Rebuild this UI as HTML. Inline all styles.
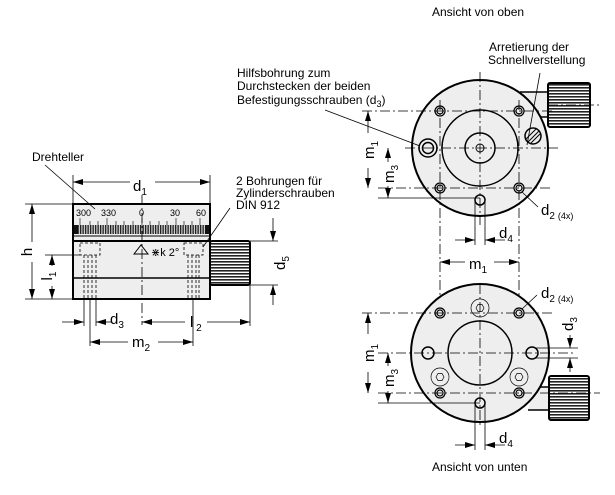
<!DOCTYPE html>
<html><head><meta charset="utf-8"><style>
html,body{margin:0;padding:0;background:#fff;}
svg{display:block;font-family:"Liberation Sans",sans-serif;}
</style></head><body>
<svg width="615" height="495" viewBox="0 0 615 495" xmlns="http://www.w3.org/2000/svg">
<defs>
<marker id="a" viewBox="0 0 10 6" refX="10" refY="3" markerWidth="10" markerHeight="6" orient="auto" markerUnits="userSpaceOnUse"><path d="M0,0 L10,3 L0,6z" fill="#000"/></marker>
<pattern id="kn" width="4" height="3" patternUnits="userSpaceOnUse"><rect width="4" height="3" fill="#fff"/><rect width="4" height="1.6" fill="#222"/></pattern>
<pattern id="kv" width="2.5" height="4" patternUnits="userSpaceOnUse"><rect width="2.5" height="4" fill="#ccc"/><rect width="1.3" height="4" fill="#222"/></pattern>
</defs>
<g stroke="#000" fill="none" stroke-width="1">

<!-- LEFT VIEW -->
<rect x="73" y="204" width="137" height="95" fill="#eee" stroke-width="2"/>
<rect x="74" y="225" width="135" height="9" fill="url(#kv)" stroke="none"/>
<rect x="74" y="225" width="4" height="9" fill="#111" stroke="none"/>
<rect x="205" y="225" width="4" height="9" fill="#111" stroke="none"/>
<g stroke-width="0.6">
<line x1="80" y1="218" x2="80" y2="225"/><line x1="107" y1="218" x2="107" y2="225"/><line x1="142" y1="218" x2="142" y2="225"/><line x1="176" y1="218" x2="176" y2="225"/><line x1="200" y1="218" x2="200" y2="225"/>
<line x1="90" y1="221" x2="90" y2="225"/><line x1="98" y1="221" x2="98" y2="225"/><line x1="116" y1="221" x2="116" y2="225"/><line x1="124" y1="221" x2="124" y2="225"/><line x1="133" y1="221" x2="133" y2="225"/><line x1="150" y1="221" x2="150" y2="225"/><line x1="159" y1="221" x2="159" y2="225"/><line x1="167" y1="221" x2="167" y2="225"/><line x1="184" y1="221" x2="184" y2="225"/><line x1="192" y1="221" x2="192" y2="225"/>
</g>
<line x1="73" y1="236" x2="210" y2="236"/>
<line x1="73" y1="241" x2="210" y2="241" stroke-width="2"/>
<line x1="73" y1="278" x2="210" y2="278" stroke-width="1.5"/>
<rect x="210" y="241" width="40" height="44" rx="2" fill="url(#kn)" stroke-width="2"/>
<path d="M134,254 L141,245 L148,254z"/>
<g stroke-dasharray="3,2" stroke-width="0.8">
<rect x="80" y="243" width="20" height="12"/>
<rect x="184" y="243" width="19" height="12"/>
<line x1="84" y1="255" x2="84" y2="299"/><line x1="88" y1="255" x2="88" y2="299"/><line x1="92" y1="255" x2="92" y2="299"/><line x1="96" y1="255" x2="96" y2="299"/>
<line x1="188" y1="255" x2="188" y2="299"/><line x1="192" y1="255" x2="192" y2="299"/><line x1="196" y1="255" x2="196" y2="299"/><line x1="199" y1="255" x2="199" y2="299"/>
</g>
<line x1="142" y1="195" x2="142" y2="325" stroke-width="0.8" stroke-dasharray="10,3,2,3"/>
<g stroke-width="0.8">
<line x1="73" y1="175" x2="73" y2="204"/><line x1="210" y1="175" x2="210" y2="204"/>
<line x1="130" y1="182" x2="73" y2="182" marker-end="url(#a)"/><line x1="155" y1="182" x2="210" y2="182" marker-end="url(#a)"/>
<line x1="25" y1="204" x2="73" y2="204"/><line x1="25" y1="299" x2="73" y2="299"/>
<line x1="32" y1="242" x2="32" y2="204" marker-end="url(#a)"/><line x1="32" y1="262" x2="32" y2="299" marker-end="url(#a)"/>
<line x1="45" y1="255" x2="80" y2="255"/>
<line x1="52" y1="266" x2="52" y2="255" marker-end="url(#a)"/><line x1="52" y1="286" x2="52" y2="299" marker-end="url(#a)"/>
<line x1="250" y1="241" x2="278" y2="241"/><line x1="250" y1="285" x2="278" y2="285"/>
<line x1="273" y1="218" x2="273" y2="241" marker-end="url(#a)"/><line x1="273" y1="305" x2="273" y2="285" marker-end="url(#a)"/>
<line x1="84" y1="299" x2="84" y2="326"/><line x1="90" y1="299" x2="90" y2="346"/><line x1="96" y1="299" x2="96" y2="326"/>
<line x1="193" y1="299" x2="193" y2="346"/><line x1="250" y1="285" x2="250" y2="326"/>
<line x1="62" y1="322" x2="84" y2="322" marker-end="url(#a)"/><line x1="112" y1="322" x2="96" y2="322" marker-end="url(#a)"/>
<line x1="185" y1="322" x2="142" y2="322" marker-end="url(#a)"/><line x1="207" y1="322" x2="250" y2="322" marker-end="url(#a)"/>
<line x1="128" y1="342" x2="90" y2="342" marker-end="url(#a)"/><line x1="158" y1="342" x2="193" y2="342" marker-end="url(#a)"/>
<line x1="45" y1="165" x2="95" y2="209"/>
<line x1="230" y1="208" x2="203" y2="247"/>
</g>

<!-- TOP VIEW -->
<path d="M520,92 L548,92 L548,117 L535,117" fill="#eee" stroke-width="1.5"/>
<rect x="548" y="83" width="42" height="44" rx="2" fill="url(#kn)" stroke-width="2"/>
<circle cx="480" cy="148" r="68" fill="#eee" stroke-width="2"/>
<circle cx="480" cy="148" r="38" stroke-width="1.5"/>
<circle cx="480" cy="148" r="15" stroke-width="1.5"/>
<circle cx="480" cy="148" r="4"/>
<g stroke-width="1.2">
<circle cx="440" cy="111" r="5"/><circle cx="440" cy="111" r="3"/>
<circle cx="519" cy="111" r="5"/><circle cx="519" cy="111" r="3"/>
<circle cx="440" cy="188" r="5"/><circle cx="440" cy="188" r="3"/>
<circle cx="519" cy="188" r="5"/><circle cx="519" cy="188" r="3"/>
</g>
<circle cx="428" cy="148" r="9" stroke-width="1.5"/><circle cx="428" cy="148" r="5.5" stroke-width="1.5"/>
<circle cx="480" cy="200" r="5" stroke-width="1.5"/>
<circle cx="533" cy="136" r="8" stroke-width="1.5"/>
<line x1="528" y1="142" x2="539" y2="131"/><line x1="526" y1="139" x2="536" y2="129"/><line x1="530" y1="144" x2="540" y2="134"/>
<g stroke-width="0.8" stroke-dasharray="10,3,2,3">
<line x1="362" y1="111" x2="552" y2="111"/><line x1="378" y1="188" x2="552" y2="188"/>
<line x1="405" y1="148" x2="558" y2="148"/><line x1="548" y1="105" x2="600" y2="105"/>
<line x1="480" y1="72" x2="480" y2="225"/>
<line x1="440" y1="100" x2="440" y2="372"/><line x1="519" y1="100" x2="519" y2="372"/>
</g>
<g stroke-width="0.8">
<line x1="368" y1="133" x2="368" y2="111" marker-end="url(#a)"/><line x1="368" y1="168" x2="368" y2="188" marker-end="url(#a)"/>
<line x1="388" y1="162" x2="388" y2="148" marker-end="url(#a)"/><line x1="388" y1="186" x2="388" y2="198" marker-end="url(#a)"/>
<line x1="378" y1="198" x2="480" y2="198"/>
<line x1="475" y1="200" x2="475" y2="245"/><line x1="485" y1="200" x2="485" y2="245"/>
<line x1="455" y1="240" x2="475" y2="240" marker-end="url(#a)"/><line x1="505" y1="240" x2="485" y2="240" marker-end="url(#a)"/>
<line x1="465" y1="262" x2="440" y2="262" marker-end="url(#a)"/><line x1="494" y1="262" x2="519" y2="262" marker-end="url(#a)"/>
<line x1="522" y1="192" x2="538" y2="207"/>
<line x1="540" y1="73" x2="527" y2="145"/>
<line x1="325" y1="110" x2="420" y2="146"/>
</g>

<!-- BOTTOM VIEW -->
<path d="M535,387 L549,387 L549,410 L528,410" fill="#eee" stroke-width="1.5"/>
<rect x="549" y="376" width="40" height="44" rx="2" fill="url(#kn)" stroke-width="2"/>
<circle cx="480" cy="353" r="69" fill="#eee" stroke-width="2"/>
<circle cx="480" cy="353" r="32" stroke-width="1.5"/>
<g stroke-width="1.2">
<circle cx="440" cy="313" r="5"/><circle cx="440" cy="313" r="3"/>
<circle cx="519" cy="313" r="5"/><circle cx="519" cy="313" r="3"/>
<circle cx="440" cy="393" r="5"/><circle cx="440" cy="393" r="3"/>
<circle cx="519" cy="393" r="5"/><circle cx="519" cy="393" r="3"/>
</g>
<g stroke-width="1.5"><circle cx="428" cy="353" r="6"/><circle cx="532" cy="353" r="6"/><circle cx="480" cy="403" r="5"/></g>
<g stroke-width="0.7">
<circle cx="480" cy="308" r="9"/><path d="M476,308 l2,-3.5 h4 l2,3.5 l-2,3.5 h-4z"/>
<circle cx="440" cy="377" r="9"/><path d="M436,377 l2,-3.5 h4 l2,3.5 l-2,3.5 h-4z"/>
<circle cx="519" cy="377" r="9"/><path d="M515,377 l2,-3.5 h4 l2,3.5 l-2,3.5 h-4z"/>
</g>
<g stroke-width="0.8" stroke-dasharray="10,3,2,3">
<line x1="362" y1="313" x2="552" y2="313"/><line x1="378" y1="393" x2="600" y2="393"/>
<line x1="378" y1="353" x2="575" y2="353"/>
<line x1="480" y1="284" x2="480" y2="425"/>
</g>
<g stroke-width="0.8">
<line x1="368" y1="334" x2="368" y2="313" marker-end="url(#a)"/><line x1="368" y1="372" x2="368" y2="393" marker-end="url(#a)"/>
<line x1="388" y1="366" x2="388" y2="353" marker-end="url(#a)"/><line x1="388" y1="391" x2="388" y2="403" marker-end="url(#a)"/>
<line x1="378" y1="403" x2="480" y2="403"/>
<line x1="536" y1="348" x2="578" y2="348"/><line x1="536" y1="358" x2="578" y2="358"/>
<line x1="570" y1="335" x2="570" y2="348" marker-end="url(#a)"/><line x1="570" y1="372" x2="570" y2="358" marker-end="url(#a)"/>
<line x1="475" y1="403" x2="475" y2="450"/><line x1="485" y1="403" x2="485" y2="450"/>
<line x1="455" y1="445" x2="475" y2="445" marker-end="url(#a)"/><line x1="505" y1="445" x2="485" y2="445" marker-end="url(#a)"/>
<line x1="522" y1="309" x2="537" y2="295"/>
</g>
</g>

<g font-size="12" fill="#000">
<text x="32" y="161">Drehteller</text>
<text x="236" y="185">2 Bohrungen für</text>
<text x="236" y="197">Zylinderschrauben</text>
<text x="236" y="209">DIN 912</text>
<text x="133" y="191" font-size="15">d<tspan font-size="10" dy="4">1</tspan></text>
<text transform="translate(27,252) rotate(-90)" text-anchor="middle" y="5" font-size="15">h</text>
<text transform="translate(47,276) rotate(-90)" text-anchor="middle" y="5" font-size="15">l<tspan font-size="10" dy="4">1</tspan></text>
<text transform="translate(280,263) rotate(-90)" text-anchor="middle" y="5" font-size="15">d<tspan font-size="10" dy="4">5</tspan></text>
<text x="110" y="324" font-size="15">d<tspan font-size="10" dy="4">3</tspan></text>
<text x="190" y="327" font-size="15">l<tspan font-size="10" dy="4"> 2</tspan></text>
<text x="132" y="347" font-size="15">m<tspan font-size="10" dy="4">2</tspan></text>
<g font-size="9"><text x="76" y="216">300</text><text x="101" y="216">330</text><text x="139" y="216">0</text><text x="170" y="216">30</text><text x="196" y="216">60</text></g>
<text x="151" y="256" font-size="11">⋇k 2°</text>

<text x="432" y="16">Ansicht von oben</text>
<text x="489" y="51">Arretierung der</text>
<text x="488" y="64">Schnellverstellung</text>
<text x="237" y="77">Hilfsbohrung zum</text>
<text x="237" y="90">Durchstecken der beiden</text>
<text x="237" y="104">Befestigungsschrauben (d<tspan font-size="9" dy="3">3</tspan><tspan dy="-3">)</tspan></text>
<text transform="translate(369,150) rotate(-90)" text-anchor="middle" y="5" font-size="15">m<tspan font-size="10" dy="4">1</tspan></text>
<text transform="translate(389,174) rotate(-90)" text-anchor="middle" y="5" font-size="15">m<tspan font-size="10" dy="4">3</tspan></text>
<text x="541" y="215" font-size="15">d<tspan font-size="10" dy="4">2</tspan><tspan font-size="9" dx="3">(4x)</tspan></text>
<text x="499" y="238" font-size="15">d<tspan font-size="10" dy="4">4</tspan></text>
<text x="469" y="269" font-size="15">m<tspan font-size="10" dy="4">1</tspan></text>

<text x="541" y="298" font-size="15">d<tspan font-size="10" dy="4">2</tspan><tspan font-size="9" dx="3">(4x)</tspan></text>
<text transform="translate(369,353) rotate(-90)" text-anchor="middle" y="5" font-size="15">m<tspan font-size="10" dy="4">1</tspan></text>
<text transform="translate(389,378) rotate(-90)" text-anchor="middle" y="5" font-size="15">m<tspan font-size="10" dy="4">3</tspan></text>
<text transform="translate(568,324) rotate(-90)" text-anchor="middle" y="5" font-size="15">d<tspan font-size="10" dy="4">3</tspan></text>
<text x="499" y="443" font-size="15">d<tspan font-size="10" dy="4">4</tspan></text>
<text x="432" y="471">Ansicht von unten</text>
</g>
</svg>
</body></html>
